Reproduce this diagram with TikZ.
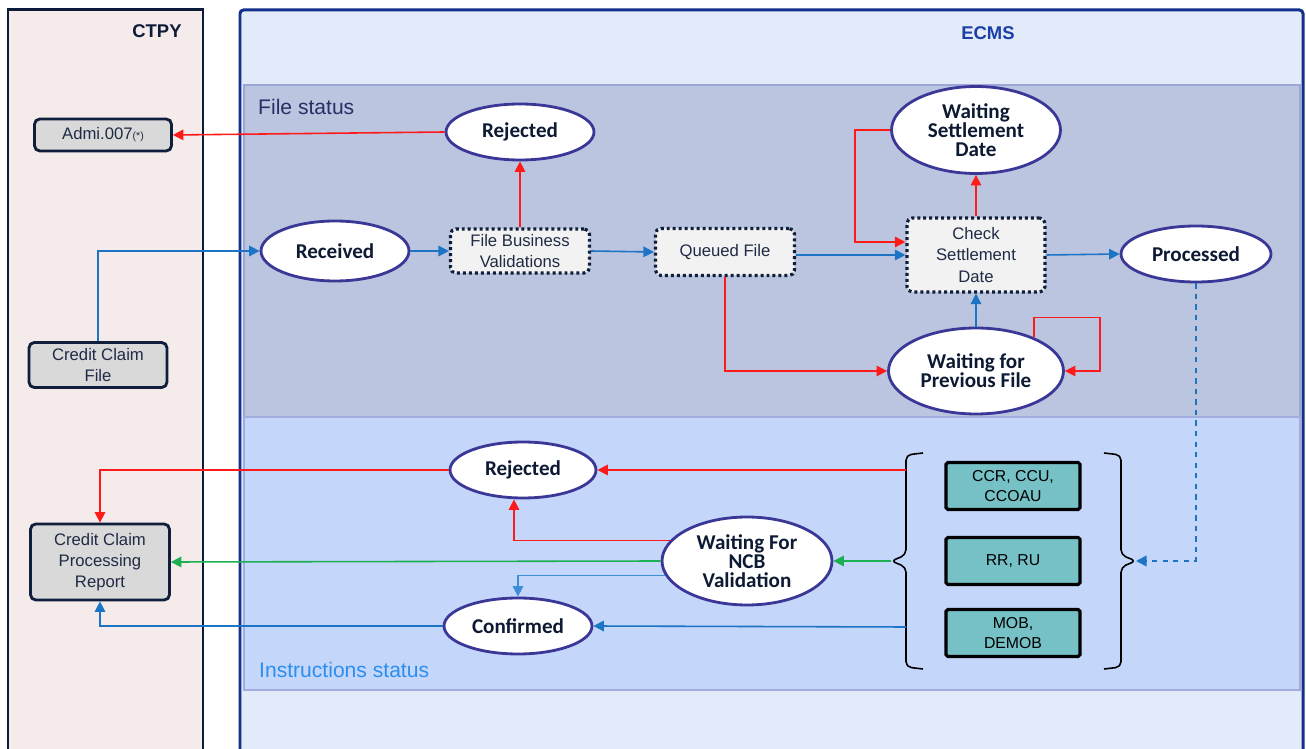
\documentclass[tikz,border=0pt]{standalone}
\usepackage{fontspec}
\setmainfont{Liberation Sans}
\newfontfamily\statefont{Carlito}
\usetikzlibrary{shapes.geometric,arrows.meta}

\definecolor{ctpyfill}{HTML}{F5EBEB}
\definecolor{ctpyline}{HTML}{0D1B3A}
\definecolor{ecmsfill}{HTML}{E3EAFA}
\definecolor{ecmsline}{HTML}{14308E}
\definecolor{ecmstext}{HTML}{1A3FA6}
\definecolor{filefill}{HTML}{BCC5DF}
\definecolor{fileline}{HTML}{9BA6D9}
\definecolor{filetext}{HTML}{2B2D66}
\definecolor{instrfill}{HTML}{C5D6FB}
\definecolor{instrline}{HTML}{A3ACDF}
\definecolor{instrtext}{HTML}{2A8FF0}
\definecolor{stateline}{HTML}{3B3797}
\definecolor{statetext}{HTML}{0D1A33}
\definecolor{boxfill}{HTML}{D9D9D9}
\definecolor{boxline}{HTML}{0F1E3A}
\definecolor{boxtext}{HTML}{1F2A44}
\definecolor{dotfill}{HTML}{F2F2F2}
\definecolor{typefill}{HTML}{76C1C6}
\definecolor{arrred}{HTML}{FF1A1A}
\definecolor{arrblue}{HTML}{1B75C4}
\definecolor{arrlblue}{HTML}{3A8FD8}
\definecolor{arrgreen}{HTML}{1DB053}

\tikzset{
  lane/.style={line width=1.7pt},
  status/.style={ellipse, draw=stateline, fill=white, line width=1.6pt, inner sep=0pt,
    minimum width=2.96cm, minimum height=1.12cm, align=center, text=statetext,
    font=\statefont\bfseries\fontsize{12}{11}\selectfont},
  msgbox/.style={rectangle, rounded corners=3pt, draw=boxline, fill=boxfill, line width=1.6pt,
    minimum width=2.76cm, inner sep=1pt, align=center, text=boxtext,
    font=\fontsize{9.5}{12}\selectfont},
  checkbox/.style={rectangle, rounded corners=3pt, draw=boxline, fill=dotfill, line width=1.8pt,
    dash pattern=on 1.7pt off 1.7pt, minimum width=2.78cm, inner sep=1pt, align=center,
    text=boxtext, font=\fontsize{9.5}{12}\selectfont},
  typebox/.style={rectangle, rounded corners=1pt, draw=black, fill=typefill, line width=1.8pt,
    minimum width=2.68cm, minimum height=0.94cm, inner sep=1pt, align=center,
    font=\fontsize{9}{11.5}\selectfont},
  tip/.style={-{Triangle[length=6pt,width=6pt]}},
  redarr/.style={tip, draw=arrred, line width=0.9pt},
  bluearr/.style={tip, draw=arrblue, line width=0.9pt},
  lbluearr/.style={tip, draw=arrlblue, line width=0.9pt},
  greenarr/.style={tip, draw=arrgreen, line width=0.9pt},
  brace/.style={line width=0.9pt, rounded corners=3pt}
}

\begin{document}
\begin{tikzpicture}[x=0.02cm, y=-0.02cm]
    \useasboundingbox (0,0) rectangle (1306,749);

    % Lanes:
    \draw[lane, draw=ctpyline, fill=ctpyfill] (8,10) rectangle (203,760);
    \fill[ecmsfill] (240,10) rectangle (1303,760);
    \draw[draw=fileline, fill=filefill, line width=1.2pt] (244,85) rectangle (1300,417);
    \draw[draw=instrline, fill=instrfill, line width=1.2pt] (244,417) rectangle (1300,690);
    \draw[lane, draw=ecmsline, rounded corners=2pt] (240,760) -- (240,10) -- (1303,10) -- (1303,760);
    \node[font=\bfseries\fontsize{10.5}{12}\selectfont, text=ctpyline] (ctpy) at (157,31) {CTPY};
    \node[font=\bfseries\fontsize{10.5}{12}\selectfont, text=ecmstext] (ecms) at (988,33) {ECMS};
    \node[anchor=west, font=\fontsize{12}{14}\selectfont, text=filetext] (filelbl) at (252,107) {File status};
    \node[anchor=west, font=\fontsize{12}{14}\selectfont, text=instrtext] (instrlbl) at (253,670) {Instructions status};

    % CTPY messages:
    \node[msgbox, minimum width=2.74cm, minimum height=0.64cm] (admi) at (103,135) {Admi.007{\fontsize{6}{7}\selectfont(*)}};
    \node[msgbox, minimum height=0.9cm] (ccf) at (98,365) {Credit Claim\\File};
    \node[msgbox, minimum width=2.78cm, minimum height=1.52cm] (ccpr) at (100,562) {Credit Claim\\Processing\\Report};

    % File status:
    \node[status] (rejF) at (520,132) {Rejected};
    \node[status, minimum height=1.2cm] (recv) at (335,251) {Received};
    \node[checkbox, minimum height=0.88cm] (fbv) at (520,251) {File Business\\Validations};
    \node[checkbox, minimum height=0.94cm] (queued) at (725,252) {Queued File};
    \node[status, minimum width=3.38cm, minimum height=1.74cm] (wsd) at (976,130) {Waiting\\Settlement\\Date};
    \node[checkbox, minimum width=2.76cm, minimum height=1.48cm] (check) at (976,255) {Check\\Settlement\\Date};
    \node[status, minimum width=3.0cm] (proc) at (1196,254) {Processed};
    \node[status, minimum width=3.5cm, minimum height=1.72cm] (wpf) at (976,371) {Waiting for\\Previous File};

    % Instructions status:
    \node[status, minimum width=2.92cm] (rejI) at (523,470) {Rejected};
    \node[status, minimum width=3.4cm, minimum height=1.76cm] (wncb) at (747,561) {Waiting For\\NCB\\Validation};
    \node[status] (conf) at (518,626) {Confirmed};
    \node[typebox] (ccr) at (1013,486) {CCR, CCU,\\CCOAU};
    \node[typebox] (rr) at (1013,561) {RR, RU};
    \node[typebox] (mob) at (1013,633) {MOB,\\DEMOB};

    % Brackets round the instruction types:
    \draw[brace] (923,453) -- (906,455) -- (906,555) -- (891,561) -- (906,567) -- (906,667) -- (923,669);
    \draw[brace] (1104,453) -- (1121,455) -- (1121,555) -- (1136,561) -- (1121,567) -- (1121,667) -- (1104,669);
    \coordinate (lbr) at (891,561);
    \coordinate (rbr) at (1136,561);
    \coordinate (lbrtop) at (906,470);
    \coordinate (lbrbot) at (906,627);

    % File status arrows:
    \draw[redarr] (rejF.west) -- (admi.east);
    \draw[redarr] (fbv.north) -- (rejF.south);
    \draw[bluearr] (ccf.north) |- (recv.west);
    \draw[bluearr] (recv.east) -- (fbv.west);
    \draw[bluearr] (fbv.east) -- (queued.west);
    \draw[bluearr] (queued.east |- check.west) -- (check.west);
    \draw[redarr] (wsd.west) -- ++(-35,0) |- ([yshift=0.26cm]check.west);
    \draw[redarr] (check.north) -- (wsd.south);
    \draw[bluearr] (check.east) -- (proc.west);
    \draw[redarr] (queued.south) |- (wpf.west);
    \draw[redarr] (wpf.30) -- ++(0,-20) -| ([xshift=0.7cm]wpf.east) -- (wpf.east);
    \draw[bluearr] (wpf.north) -- (check.south);
    \draw[bluearr, dashed] (proc.south) |- (rbr);

    % Instructions status arrows:
    \draw[redarr] (lbrtop) -- (rejI.east);
    \draw[redarr] (rejI.west) -| (ccpr.north);
    \draw[redarr] (wncb.165) -| ([xshift=-0.18cm]rejI.south);
    \draw[greenarr] (lbr) -- (wncb.east);
    \draw[greenarr] (wncb.west) -- (ccpr.east);
    \draw[lbluearr] (wncb.190) -| (conf.north);
    \draw[bluearr] (lbrbot) -- (conf.east);
    \draw[bluearr] (conf.west) -| (ccpr.south);
\end{tikzpicture}
\end{document}
